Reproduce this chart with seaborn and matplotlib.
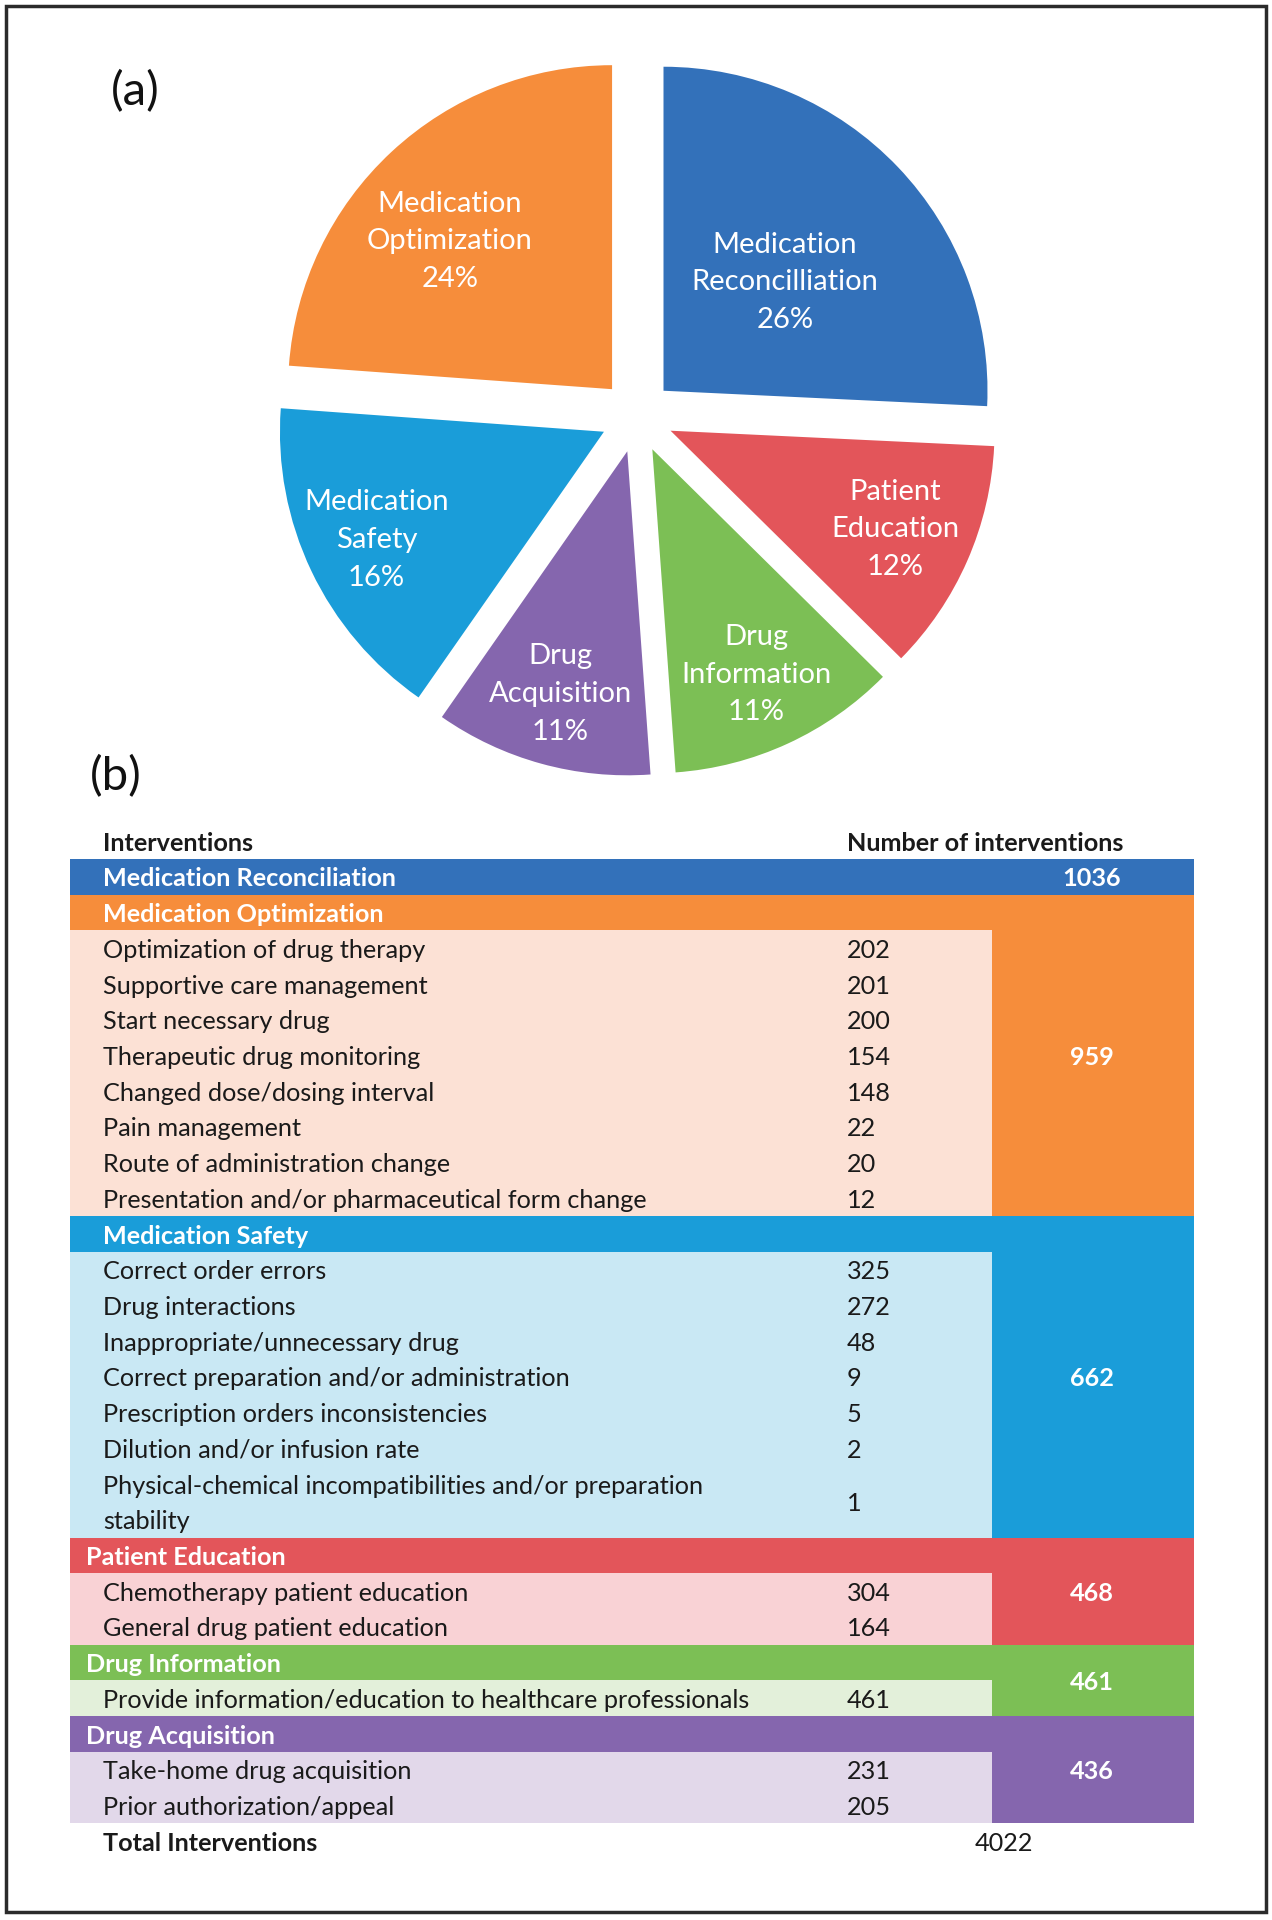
import numpy as np
import pandas as pd
import seaborn as sns
import matplotlib.pyplot as plt
from matplotlib.patches import Rectangle

# ----------------------------
# Data
# ----------------------------
pie_labels = ["Medication\nReconcilliation", "Patient\nEducation", "Drug\nInformation",
              "Drug\nAcquisition", "Medication\nSafety", "Medication\nOptimization"]
pie_values = [1036, 468, 461, 436, 662, 959]

groups = ["Medication Reconciliation", "Medication Optimization", "Medication Safety",
          "Patient Education", "Drug Information", "Drug Acquisition"]
group_totals = [1036, 959, 662, 468, 461, 436]

reconciliation_items = []
reconciliation_counts = []
optimization_items = ["Optimization of drug therapy", "Supportive care management",
                      "Start necessary drug", "Therapeutic drug monitoring",
                      "Changed dose/dosing interval", "Pain management",
                      "Route of administration change",
                      "Presentation and/or pharmaceutical form change"]
optimization_counts = [202, 201, 200, 154, 148, 22, 20, 12]
safety_items = ["Correct order errors", "Drug interactions", "Inappropriate/unnecessary drug",
                "Correct preparation and/or administration",
                "Prescription orders inconsistencies", "Dilution and/or infusion rate",
                "Physical-chemical incompatibilities and/or preparation\nstability"]
safety_counts = [325, 272, 48, 9, 5, 2, 1]
education_items = ["Chemotherapy patient education", "General drug patient education"]
education_counts = [304, 164]
information_items = ["Provide information/education to healthcare professionals"]
information_counts = [461]
acquisition_items = ["Take-home drug acquisition", "Prior authorization/appeal"]
acquisition_counts = [231, 205]

total_interventions = 4022

# ----------------------------
# Styling
# ----------------------------
sns.set_theme(style="white")
plt.rcParams['font.family'] = ['Lato', 'DejaVu Sans']

strong = {"Medication Reconciliation": "#3371BA", "Medication Optimization": "#F68D3B",
          "Medication Safety": "#1A9DD9", "Patient Education": "#E3555A",
          "Drug Information": "#7CBF55", "Drug Acquisition": "#8566AE"}
light = {"Medication Reconciliation": "#C9DAF0", "Medication Optimization": "#FCE1D5",
         "Medication Safety": "#C9E8F4", "Patient Education": "#F9D2D5",
         "Drug Information": "#E3F0DA", "Drug Acquisition": "#E2D8EA"}
pie_colors = [strong[g] for g in ["Medication Reconciliation", "Patient Education",
                                  "Drug Information", "Drug Acquisition",
                                  "Medication Safety", "Medication Optimization"]]

W, H = 1272, 1920
fig = plt.figure(figsize=(W / 100, H / 100), dpi=100)
fig.patch.set_facecolor("white")

# outer frame
fig.patches.append(Rectangle((6 / W, 1 - 1912 / H), 1260 / W, 1906 / H,
                             transform=fig.transFigure, fill=False,
                             edgecolor="#2b2b2b", linewidth=2.5))

# ----------------------------
# (a) pie
# ----------------------------
cx, cy, rad, lim = 637, 416, 324, 1.3
side = 2 * lim * rad
ax = fig.add_axes([(cx - side / 2) / W, 1 - (cy + side / 2) / H, side / W, side / H])
wedges, _ = ax.pie(pie_values, colors=pie_colors, startangle=90, counterclock=False,
                   explode=[0.113] * len(pie_values), wedgeprops=dict(linewidth=0))
ax.set_xlim(-lim, lim)
ax.set_ylim(-lim, lim)
ax.set_aspect("equal")
ax.axis("off")

label_dist = [0.615, 0.87, 0.88, 0.89, 0.89, 0.79]
label_turn = [-1.5, 0, 0, 0, 0, 4]
tot = sum(pie_values)
for w, lab, v, d, t in zip(wedges, pie_labels, pie_values, label_dist, label_turn):
    ang = np.deg2rad((w.theta1 + w.theta2) / 2 + t)
    ax.text(d * np.cos(ang), d * np.sin(ang), f"{lab}\n{v / tot * 100:.0f}%",
            ha="center", va="center", color="white", fontsize=21, linespacing=1.55)

fig.text(135 / W, 1 - 92 / H, "(a)", ha="center", va="center", fontsize=34, color="#111111")
fig.text(116 / W, 1 - 777 / H, "(b)", ha="center", va="center", fontsize=34, color="#111111")

# ----------------------------
# (b) table
# ----------------------------
row_h, row0 = 35.72, 841
n_rows = 29
tax = fig.add_axes([0, 1 - (row0 + row_h * (n_rows - 0.5)) / H, 1, row_h * n_rows / H])
tax.set_xlim(0, W)
tax.set_ylim(n_rows - 0.5, -0.5)
tax.axis("off")

x_left, x_split, x_right = 70, 992, 1194
x_text, x_num, x_val = 103, 847, 1092
head_x = [103, 103, 103, 86, 86, 86]
fs = 18.2
dy = 0.06
ink = "#1a1a1a"

tax.text(x_text, 0 + dy, "Interventions", ha="left", va="center", fontsize=fs,
         weight="bold", color=ink)
tax.text(x_num, 0 + dy, "Number of interventions", ha="left", va="center", fontsize=fs,
         weight="bold", color=ink)

group_items = [reconciliation_items, optimization_items, safety_items,
               education_items, information_items, acquisition_items]
group_counts = [reconciliation_counts, optimization_counts, safety_counts,
                education_counts, information_counts, acquisition_counts]

r = 1
for gi, g in enumerate(groups):
    start = r
    tax.barh(r, x_split - x_left, left=x_left, height=1, color=strong[g], linewidth=0)
    tax.text(head_x[gi], r + dy, g, ha="left", va="center", fontsize=fs, weight="bold",
             color="white")
    r += 1
    for item, cnt in zip(group_items[gi], group_counts[gi]):
        lines = item.split("\n")
        n = len(lines)
        tax.barh(r + (n - 1) / 2, x_split - x_left, left=x_left, height=n,
                 color=light[g], linewidth=0)
        for k, line in enumerate(lines):
            tax.text(x_text, r + k + dy, line, ha="left", va="center", fontsize=fs, color=ink)
        tax.text(x_num, r + (n - 1) / 2 + dy, str(cnt), ha="left", va="center",
                 fontsize=fs, color=ink)
        r += n
    end = r - 1
    tax.barh((start + end) / 2, x_right - x_split, left=x_split, height=end - start + 1,
             color=strong[g], linewidth=0)
    tax.text(x_val, (start + end) / 2 + dy, str(group_totals[gi]), ha="center", va="center",
             fontsize=fs, weight="bold", color="white")

tax.text(x_text, r + dy, "Total Interventions", ha="left", va="center", fontsize=fs,
         weight="bold", color=ink)
tax.text(1004, r + dy, str(total_interventions), ha="center", va="center", fontsize=fs,
         color=ink)

fig.savefig("out.png", dpi=100)
plt.close(fig)
